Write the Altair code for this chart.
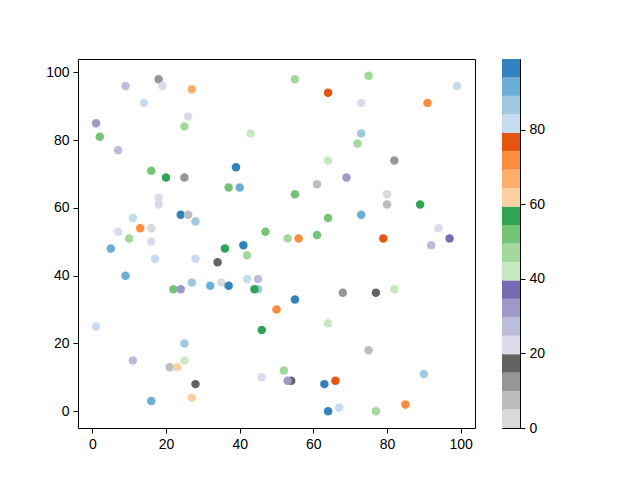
import altair as alt
import pandas as pd

# scatter data (x, y, colour value)
xs = [18, 9, 19, 27, 14, 26, 1, 25, 2, 43, 7, 39, 16, 20, 25, 37, 40, 18, 18, 24,
      26, 28, 11, 13, 16, 7, 10, 16, 5, 36, 41, 47, 55, 75, 64, 99, 73, 91, 73, 72,
      64, 82, 69, 61, 55, 80, 80, 89, 64, 73, 94, 61, 53, 56, 79, 97, 92, 42, 17, 28,
      34, 9, 27, 32, 35, 37, 42, 45, 22, 24, 45, 44, 50, 1, 46, 25, 11, 25, 21, 23,
      46, 28, 27, 16, 55, 68, 77, 82, 64, 75, 52, 54, 53, 63, 66, 90, 64, 67, 77, 85]
ys = [98, 96, 96, 95, 91, 87, 85, 84, 81, 82, 77, 72, 71, 69, 69, 66, 66, 63, 61, 58,
      58, 56, 57, 54, 54, 53, 51, 50, 48, 48, 49, 53, 98, 99, 94, 96, 91, 91, 82, 79,
      74, 74, 69, 67, 64, 64, 61, 61, 57, 58, 54, 52, 51, 51, 51, 51, 49, 46, 45, 45,
      44, 40, 38, 37, 38, 37, 39, 39, 36, 36, 36, 36, 30, 25, 24, 20, 15, 15, 13, 13,
      10, 8, 4, 3, 33, 35, 35, 36, 26, 18, 12, 9, 9, 8, 9, 11, 0, 1, 0, 2]
cs = [12, 27, 22, 67, 82, 22, 32, 47, 52, 42, 27, 97, 52, 57, 12, 52, 92, 22, 22, 97,
      7, 87, 82, 72, 2, 22, 47, 22, 92, 57, 97, 52, 47, 47, 77, 82, 22, 72, 87, 47,
      42, 12, 32, 7, 52, 2, 7, 57, 52, 92, 22, 52, 47, 72, 77, 37, 27, 47, 82, 82,
      17, 92, 87, 92, 2, 97, 82, 27, 52, 32, 87, 57, 72, 82, 57, 87, 27, 42, 7, 62,
      22, 17, 62, 92, 97, 12, 17, 42, 42, 7, 47, 17, 32, 97, 77, 87, 97, 82, 47, 72]

# reversed tab20c colormap, 20 levels
cmap = ["#d9d9d9", "#bdbdbd", "#969696", "#636363",
        "#dadaeb", "#bcbddc", "#9e9ac8", "#756bb1",
        "#c7e9c0", "#a1d99b", "#74c476", "#31a354",
        "#fdd0a2", "#fdae6b", "#fd8d3c", "#e6550d",
        "#c6dbef", "#9ecae1", "#6baed6", "#3182bd"]
vmin, vmax = 0, 99
ticks_xy = [0, 20, 40, 60, 80, 100]
ticks_cb = [0, 20, 40, 60, 80]

df = pd.DataFrame({"x": xs, "y": ys, "c": cs})
n = len(cmap)
step = (vmax - vmin) / n
cb = pd.DataFrame({
    "lo": [vmin + k * step for k in range(n)],
    "hi": [vmin + (k + 1) * step for k in range(n)],
    "mid": [vmin + (k + 0.5) * step for k in range(n)],
})

color_scale = alt.Scale(type="quantize", domain=[vmin, vmax], range=cmap, nice=False, zero=False)


def auto_dom(vals):
    lo, hi = min(vals), max(vals)
    m = (hi - lo) * 0.05
    return [lo - m, hi + m]


ax = dict(title=None, grid=False, domain=False, tickColor="black", tickSize=5,
          tickWidth=1, labelPadding=4, labelFontSize=14, labelColor="black",
          labelFont="Liberation Sans")

scatter = alt.Chart(df).mark_circle(size=72, opacity=1).encode(
    x=alt.X("x:Q", scale=alt.Scale(domain=auto_dom(xs), nice=False, zero=False),
            axis=alt.Axis(values=ticks_xy, **ax)),
    y=alt.Y("y:Q", scale=alt.Scale(domain=auto_dom(ys), nice=False, zero=False),
            axis=alt.Axis(values=ticks_xy, **ax)),
    color=alt.Color("c:Q", scale=color_scale, legend=None),
).properties(width=397, height=369)

colorbar = alt.Chart(cb).mark_rect().encode(
    x=alt.value(0), x2=alt.value(18),
    y=alt.Y("lo:Q", scale=alt.Scale(domain=[vmin, vmax], nice=False, zero=False),
            axis=alt.Axis(orient="right", values=ticks_cb, **ax)),
    y2="hi:Q",
    color=alt.Color("mid:Q", scale=color_scale, legend=None),
).properties(width=18, height=369)

chart = alt.hconcat(scatter, colorbar, spacing=25).properties(
    padding={"left": 37, "top": 50, "right": 5, "bottom": 5},
    background="white",
).configure_view(stroke="black", strokeWidth=1).configure_concat(spacing=25)

chart.save("out.html", embed_options={"renderer": "svg", "actions": False})
